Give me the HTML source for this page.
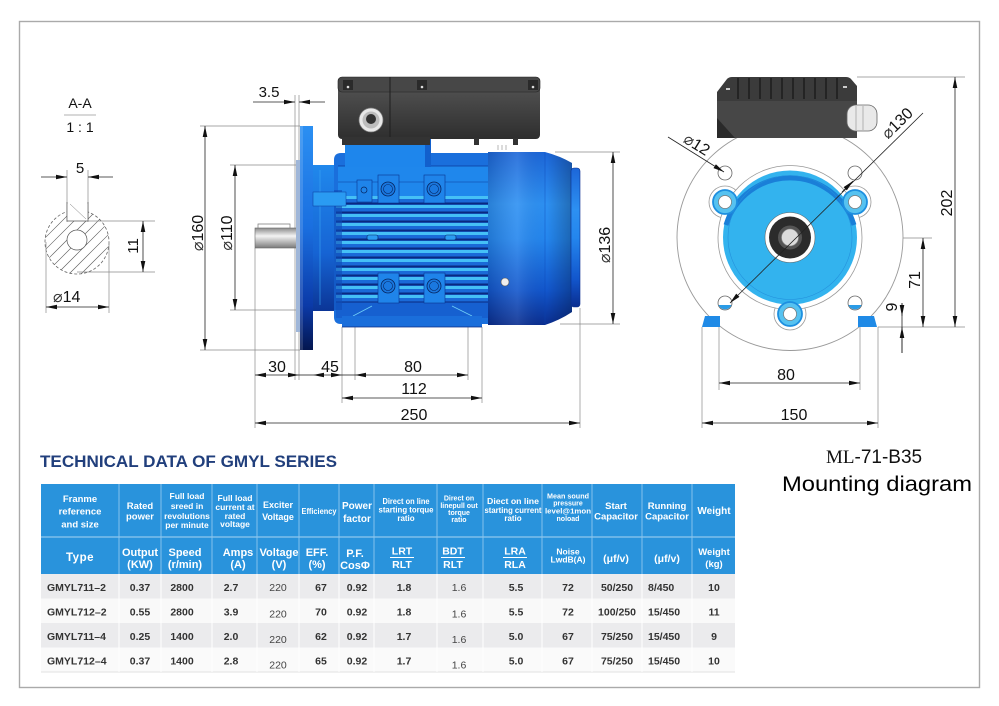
<!DOCTYPE html>
<html><head><meta charset="utf-8"><style>
html,body{margin:0;padding:0;background:#fff;}
svg{display:block;}
text{font-family:"Liberation Sans",Arial,sans-serif;}
.d{font-size:16px;fill:#111;}
.dl{stroke:#222;stroke-width:0.8;fill:none;}
.el{stroke:#8a8a8a;stroke-width:0.7;fill:none;}
.h{fill:#fff;font-weight:bold;text-anchor:middle;}
.v{fill:#333;font-weight:bold;font-size:10.5px;text-anchor:middle;}
.vl{fill:#444;font-size:10.5px;text-anchor:middle;}
</style></head><body>
<svg width="999" height="706" viewBox="0 0 999 706" xmlns="http://www.w3.org/2000/svg">
<defs>
 <marker id="ar" viewBox="0 0 11 4.6" refX="11" refY="2.3" markerWidth="11" markerHeight="4.6" markerUnits="userSpaceOnUse" orient="auto-start-reverse"><path d="M0,0 L11,2.3 L0,4.6 z" fill="#111"/></marker>
 <linearGradient id="flg" x1="0" y1="0" x2="0" y2="1">
  <stop offset="0" stop-color="#2b8ff2"/><stop offset="0.45" stop-color="#1a6fe0"/>
  <stop offset="0.8" stop-color="#0b3aa8"/><stop offset="1" stop-color="#04164f"/>
 </linearGradient>
 <linearGradient id="spg" x1="0" y1="0" x2="0" y2="1">
  <stop offset="0" stop-color="#2088ec"/><stop offset="0.6" stop-color="#1664d4"/><stop offset="1" stop-color="#0b3596"/>
 </linearGradient>
 <linearGradient id="fan" x1="0" y1="0" x2="0" y2="1">
  <stop offset="0" stop-color="#1c66d8"/><stop offset="0.3" stop-color="#2d90f2"/>
  <stop offset="0.5" stop-color="#2486ee"/><stop offset="0.8" stop-color="#1256cc"/>
  <stop offset="1" stop-color="#0a2e90"/>
 </linearGradient>
 <linearGradient id="fanh" x1="0" y1="0" x2="1" y2="0">
  <stop offset="0" stop-color="#000" stop-opacity="0.12"/><stop offset="0.35" stop-color="#fff" stop-opacity="0.1"/>
  <stop offset="0.7" stop-color="#000" stop-opacity="0"/><stop offset="1" stop-color="#000" stop-opacity="0.25"/>
 </linearGradient>
 <linearGradient id="shaft" x1="0" y1="0" x2="0" y2="1">
  <stop offset="0" stop-color="#8a8a8a"/><stop offset="0.4" stop-color="#f4f4f4"/><stop offset="1" stop-color="#7a7a7a"/>
 </linearGradient>
 <linearGradient id="tb" x1="0" y1="0" x2="0" y2="1">
  <stop offset="0" stop-color="#585858"/><stop offset="1" stop-color="#2e2e2e"/>
 </linearGradient>
 <pattern id="fins" x="0" y="196" width="10" height="9" patternUnits="userSpaceOnUse">
  <rect width="10" height="9" fill="#1a6ad8"/>
  <rect y="0" width="10" height="3" fill="#45c0f6"/>
  <rect y="6.5" width="10" height="2" fill="#0a2a80"/>
 </pattern>
 <clipPath id="cc"><circle cx="77" cy="242" r="32"/></clipPath>
</defs>

<!-- frame -->
<rect x="19.5" y="21.5" width="960" height="666" fill="none" stroke="#aaa" stroke-width="1.4"/>

<!-- ===== Section A-A ===== -->
<text x="80" y="108" font-size="14" text-anchor="middle" fill="#111">A-A</text>
<line x1="64" y1="115" x2="96" y2="115" stroke="#999" stroke-width="0.8"/>
<text x="80" y="132" font-size="14" text-anchor="middle" fill="#111">1 : 1</text>
<text x="80" y="173" font-size="15" text-anchor="middle" fill="#111">5</text>
<line class="el" x1="67" y1="170" x2="67" y2="222"/>
<line class="el" x1="88" y1="170" x2="88" y2="222"/>
<line class="dl" x1="41" y1="177" x2="67" y2="177" marker-end="url(#ar)"/>
<line class="dl" x1="113" y1="177" x2="88" y2="177" marker-end="url(#ar)"/>
<g clip-path="url(#cc)" stroke="#555" stroke-width="0.6">
 <line x1="-11" y1="282" x2="69" y2="202"/><line x1="1" y1="282" x2="81" y2="202"/>
 <line x1="13" y1="282" x2="93" y2="202"/><line x1="25" y1="282" x2="105" y2="202"/>
 <line x1="37" y1="282" x2="117" y2="202"/><line x1="49" y1="282" x2="129" y2="202"/>
 <line x1="61" y1="282" x2="141" y2="202"/><line x1="73" y1="282" x2="153" y2="202"/>
 <line x1="85" y1="282" x2="165" y2="202"/><line x1="97" y1="282" x2="177" y2="202"/>
</g>
<circle cx="77" cy="242" r="32" fill="none" stroke="#666" stroke-width="0.8" stroke-dasharray="3 2"/>
<rect x="67" y="204" width="21" height="17" fill="#fff"/>
<path d="M67,202 V221 H88 V202" fill="none" stroke="#555" stroke-width="0.7"/>
<line x1="70" y1="204" x2="86" y2="219" stroke="#777" stroke-width="0.5"/>
<circle cx="77" cy="240" r="10" fill="#fff" stroke="#555" stroke-width="0.7"/>
<line class="el" x1="88" y1="221" x2="155" y2="221"/>
<line class="el" x1="77" y1="272" x2="155" y2="272"/>
<line class="dl" x1="143" y1="221" x2="143" y2="272" marker-start="url(#ar)" marker-end="url(#ar)"/>
<text transform="translate(138,246) rotate(-90)" font-size="15" text-anchor="middle" fill="#111">11</text>
<line class="el" x1="46" y1="242" x2="46" y2="313"/>
<line class="el" x1="109" y1="242" x2="109" y2="313"/>
<line class="dl" x1="46" y1="307" x2="109" y2="307" marker-start="url(#ar)" marker-end="url(#ar)"/>
<text x="53" y="302" font-size="16" fill="#111"><tspan font-family="DejaVu Sans" font-weight="200" fill="#333">⌀</tspan>14</text>

<!-- ===== Side view dims ===== -->
<line class="el" x1="200" y1="126" x2="300" y2="126"/>
<line class="el" x1="200" y1="350" x2="300" y2="350"/>
<line class="el" x1="230" y1="165" x2="313" y2="165"/>
<line class="el" x1="230" y1="310" x2="313" y2="310"/>
<line class="el" x1="295" y1="95" x2="295" y2="380"/>
<line class="el" x1="299" y1="95" x2="299" y2="380"/>
<line class="el" x1="255" y1="248" x2="255" y2="428"/>
<line class="el" x1="580" y1="308" x2="580" y2="428"/>
<line class="el" x1="342" y1="327" x2="342" y2="403"/>
<line class="el" x1="482" y1="327" x2="482" y2="403"/>
<line class="el" x1="355" y1="318" x2="355" y2="380"/>
<line class="el" x1="468" y1="318" x2="468" y2="380"/>
<line class="el" x1="555" y1="152" x2="620" y2="152"/>
<line class="el" x1="560" y1="324" x2="620" y2="324"/>
<line class="dl" x1="205" y1="126" x2="205" y2="350" marker-start="url(#ar)" marker-end="url(#ar)"/>
<line class="dl" x1="235" y1="165" x2="235" y2="310" marker-start="url(#ar)" marker-end="url(#ar)"/>
<line class="dl" x1="613" y1="152" x2="613" y2="324" marker-start="url(#ar)" marker-end="url(#ar)"/>
<text class="d" transform="translate(203,233) rotate(-90)" text-anchor="middle"><tspan font-family="DejaVu Sans" font-weight="200" fill="#333">⌀</tspan>160</text>
<text class="d" transform="translate(232,233) rotate(-90)" text-anchor="middle"><tspan font-family="DejaVu Sans" font-weight="200" fill="#333">⌀</tspan>110</text>
<text class="d" transform="translate(610,245) rotate(-90)" text-anchor="middle"><tspan font-family="DejaVu Sans" font-weight="200" fill="#333">⌀</tspan>136</text>
<text x="269" y="97" font-size="15" text-anchor="middle" fill="#111">3.5</text>
<line class="dl" x1="253" y1="102" x2="295" y2="102" marker-end="url(#ar)"/>
<line class="dl" x1="325" y1="102" x2="299" y2="102" marker-end="url(#ar)"/>
<line class="dl" x1="255" y1="375" x2="299" y2="375" marker-start="url(#ar)" marker-end="url(#ar)"/>
<line class="dl" x1="299" y1="375" x2="313" y2="375"/>
<line class="dl" x1="313" y1="375" x2="342" y2="375" marker-start="url(#ar)" marker-end="url(#ar)"/>
<line class="dl" x1="342" y1="375" x2="355" y2="375"/>
<line class="dl" x1="355" y1="375" x2="468" y2="375" marker-start="url(#ar)" marker-end="url(#ar)"/>
<line class="dl" x1="342" y1="398" x2="482" y2="398" marker-start="url(#ar)" marker-end="url(#ar)"/>
<line class="dl" x1="255" y1="423" x2="580" y2="423" marker-start="url(#ar)" marker-end="url(#ar)"/>
<text class="d" x="277" y="372" text-anchor="middle">30</text>
<text class="d" x="330" y="372" text-anchor="middle">45</text>
<text class="d" x="413" y="372" text-anchor="middle">80</text>
<text class="d" x="414" y="394" text-anchor="middle">112</text>
<text class="d" x="414" y="420" text-anchor="middle">250</text>

<!-- ===== Side view motor ===== -->
<rect x="255" y="228" width="42" height="20" fill="url(#shaft)" stroke="#666" stroke-width="0.6"/>
<path d="M258,228 V224 H290 V228" fill="none" stroke="#777" stroke-width="0.7"/>
<rect x="296" y="160" width="4.5" height="172" fill="#9fb6d8"/>
<rect x="300" y="126" width="13" height="224" fill="url(#flg)"/>
<rect x="300" y="126" width="3" height="224" fill="#fff" opacity="0.15"/>
<rect x="313" y="165" width="22" height="146" fill="url(#spg)"/>
<line x1="320" y1="170" x2="320" y2="305" stroke="#3aa6f4" stroke-width="1" opacity="0.6"/>
<!-- body -->
<path d="M341,153 H488 V324 H341 Q334,324 334,317 V160 Q334,153 341,153Z" fill="#1a6fdc"/>
<rect x="336" y="196" width="152" height="108" fill="url(#fins)"/>
<rect x="338" y="166" width="150" height="30" fill="#1f87ec"/>
<line x1="338" y1="166" x2="488" y2="166" stroke="#0b3a9c" stroke-width="0.8"/>
<line x1="338" y1="182" x2="488" y2="182" stroke="#0b3a9c" stroke-width="0.6"/>
<rect x="336" y="302" width="152" height="16" fill="#1660d0"/>
<line x1="336" y1="302" x2="488" y2="302" stroke="#0a2a80" stroke-width="1"/>
<rect x="334" y="190" width="8" height="120" fill="#0f4cb8" opacity="0.6"/>
<!-- lug -->
<rect x="313" y="192" width="33" height="14" fill="#2a9bf2" stroke="#0b3a9c" stroke-width="0.5"/>
<!-- upper blocks -->
<rect x="357" y="180" width="15" height="22" fill="#1f84ea" stroke="#0a3590" stroke-width="0.6"/>
<circle cx="364" cy="190" r="3" fill="none" stroke="#06245e" stroke-width="0.7"/>
<rect x="378" y="175" width="21" height="28" fill="#1f84ea" stroke="#0a3590" stroke-width="0.6"/>
<rect x="424" y="175" width="21" height="28" fill="#1f84ea" stroke="#0a3590" stroke-width="0.6"/>
<circle cx="388" cy="189" r="7" fill="#1a78e0" stroke="#06245e" stroke-width="0.8"/>
<circle cx="388" cy="189" r="4.5" fill="none" stroke="#06245e" stroke-width="0.6"/>
<circle cx="434" cy="189" r="7" fill="#1a78e0" stroke="#06245e" stroke-width="0.8"/>
<circle cx="434" cy="189" r="4.5" fill="none" stroke="#06245e" stroke-width="0.6"/>
<!-- lower blocks -->
<rect x="378" y="273" width="21" height="30" fill="#1f84ea" stroke="#0a3590" stroke-width="0.6"/>
<rect x="424" y="273" width="21" height="30" fill="#1f84ea" stroke="#0a3590" stroke-width="0.6"/>
<circle cx="388" cy="286" r="7" fill="#1a78e0" stroke="#06245e" stroke-width="0.8"/>
<circle cx="388" cy="286" r="4.5" fill="none" stroke="#06245e" stroke-width="0.6"/>
<circle cx="434" cy="286" r="7" fill="#1a78e0" stroke="#06245e" stroke-width="0.8"/>
<circle cx="434" cy="286" r="4.5" fill="none" stroke="#06245e" stroke-width="0.6"/>
<rect x="367" y="235" width="11" height="5" rx="2" fill="#2a9bf2" stroke="#06245e" stroke-width="0.6"/>
<rect x="445" y="235" width="11" height="5" rx="2" fill="#2a9bf2" stroke="#06245e" stroke-width="0.6"/>
<path d="M353,316 L372,306 M452,306 L472,316" stroke="#6fcff8" stroke-width="0.8"/>
<!-- feet -->
<rect x="342" y="316" width="140" height="11" fill="#1a6edb"/>
<line x1="342" y1="327" x2="482" y2="327" stroke="#0a2a80" stroke-width="0.8"/>
<!-- pedestal -->
<rect x="345" y="137" width="86" height="30" fill="#1e86ec"/>
<rect x="425" y="137" width="6" height="30" fill="#1260cc"/>
<!-- terminal box -->
<rect x="338" y="77" width="202" height="62" rx="4" fill="url(#tb)"/>
<rect x="338" y="77" width="202" height="15" rx="4" fill="#474747" stroke="#222" stroke-width="0.6"/>
<line x1="390" y1="77" x2="390" y2="139" stroke="#1e1e1e" stroke-width="1"/>
<rect x="343" y="80" width="10" height="10" fill="#2a2a2a"/><circle cx="348" cy="87" r="1.3" fill="#ddd"/>
<rect x="417" y="80" width="10" height="10" fill="#2a2a2a"/><circle cx="422" cy="87" r="1.3" fill="#ddd"/>
<rect x="528" y="80" width="10" height="10" fill="#2a2a2a"/><circle cx="533" cy="87" r="1.3" fill="#ddd"/>
<rect x="342" y="137" width="88" height="8" fill="#333"/>
<rect x="474" y="138" width="5" height="7" fill="#333"/>
<rect x="513" y="138" width="5" height="7" fill="#333"/>
<circle cx="371" cy="120" r="12" fill="#e8e8e8" stroke="#777" stroke-width="0.7"/>
<circle cx="371" cy="120" r="8.5" fill="#bdbdbd"/>
<circle cx="371" cy="119" r="5" fill="#333"/>
<!-- fan cover -->
<path d="M488,152 H545 Q560,156 572,163 V312 Q560,320 545,325 H488 Z" fill="url(#fan)"/>
<path d="M488,152 H545 Q560,156 572,163 V312 Q560,320 545,325 H488 Z" fill="url(#fanh)"/>
<line x1="545" y1="153" x2="545" y2="324" stroke="#0d44b0" stroke-width="0.6" opacity="0.6"/>
<rect x="571" y="168" width="9" height="139" rx="3" fill="url(#fan)" stroke="#0a3090" stroke-width="0.6"/>
<circle cx="505" cy="282" r="4" fill="#eee" stroke="#555" stroke-width="0.6"/>
<path d="M498,145 V150 M502,145 V150 M506,145 V150" stroke="#888" stroke-width="0.6"/>

<!-- ===== Front view ===== -->
<line class="el" x1="857" y1="77" x2="965" y2="77"/>
<line class="el" x1="878" y1="327" x2="965" y2="327"/>
<line class="el" x1="790" y1="238" x2="932" y2="238"/>
<line class="el" x1="702" y1="327" x2="702" y2="428"/>
<line class="el" x1="878" y1="327" x2="878" y2="428"/>
<line class="el" x1="719" y1="305" x2="719" y2="390"/>
<line class="el" x1="860" y1="305" x2="860" y2="390"/>
<line class="dl" x1="955" y1="77" x2="955" y2="327" marker-start="url(#ar)" marker-end="url(#ar)"/>
<line class="dl" x1="923" y1="238" x2="923" y2="327" marker-start="url(#ar)" marker-end="url(#ar)"/>
<line class="dl" x1="902" y1="303" x2="902" y2="353"/>
<line class="dl" x1="902" y1="303" x2="902" y2="316" marker-end="url(#ar)"/>
<line class="dl" x1="902" y1="353" x2="902" y2="327" marker-end="url(#ar)"/>
<line class="dl" x1="719" y1="383" x2="860" y2="383" marker-start="url(#ar)" marker-end="url(#ar)"/>
<line class="dl" x1="702" y1="423" x2="878" y2="423" marker-start="url(#ar)" marker-end="url(#ar)"/>
<text class="d" transform="translate(952,203) rotate(-90)" text-anchor="middle">202</text>
<text class="d" transform="translate(920,280) rotate(-90)" text-anchor="middle">71</text>
<text class="d" transform="translate(897,307) rotate(-90)" text-anchor="middle">9</text>
<text class="d" x="786" y="380" text-anchor="middle">80</text>
<text class="d" x="794" y="420" text-anchor="middle">150</text>

<circle cx="790" cy="237.5" r="113" fill="#fff" stroke="#999" stroke-width="0.9"/>
<!-- front terminal box -->
<path d="M717,92 L727,79 Q729,77 732,77 H846 Q849,77 851,79 L857,86 V138 H717 Z" fill="#3b3b3b"/>
<rect x="717" y="101" width="140" height="37" fill="#474747"/>
<path d="M717,118 L735,138 H717 Z" fill="#2a2a2a"/>
<g stroke="#1a1a1a" stroke-width="1.4">
 <line x1="738" y1="78" x2="738" y2="99"/><line x1="749" y1="78" x2="749" y2="99"/>
 <line x1="760" y1="78" x2="760" y2="99"/><line x1="771" y1="78" x2="771" y2="99"/>
 <line x1="782" y1="78" x2="782" y2="99"/><line x1="793" y1="78" x2="793" y2="99"/>
 <line x1="804" y1="78" x2="804" y2="99"/><line x1="815" y1="78" x2="815" y2="99"/>
 <line x1="826" y1="78" x2="826" y2="99"/><line x1="837" y1="78" x2="837" y2="99"/>
</g>
<rect x="726" y="88" width="4" height="2" fill="#ccc"/><rect x="843" y="86" width="4" height="2" fill="#ccc"/>
<rect x="847" y="105" width="30" height="26" rx="9" fill="#e9e9e9" stroke="#666" stroke-width="0.8"/>
<path d="M856,106 V130 M863,106 V130" stroke="#999" stroke-width="0.7"/>
<!-- flange holes -->
<g fill="#fff" stroke="#666" stroke-width="0.8">
 <circle cx="725" cy="173" r="7"/><circle cx="855" cy="173" r="7"/>
 <circle cx="725" cy="303" r="7"/><circle cx="855" cy="303" r="7"/>
</g>
<path d="M718.5,305 A7,7 0 0 0 731.5,305 Z" fill="#2a9be6"/>
<path d="M848.5,305 A7,7 0 0 0 861.5,305 Z" fill="#2a9be6"/>
<!-- boss outlines -->
<g fill="#fff" stroke="#999" stroke-width="0.8">
 <circle cx="725" cy="202" r="16"/><circle cx="855" cy="202" r="16"/><circle cx="790" cy="314" r="16"/>
 <circle cx="790" cy="237.5" r="72"/>
</g>
<circle cx="790" cy="237.5" r="67" fill="#33b3ee"/>
<path d="M726,225 A67,67 0 0 1 854,225" fill="none" stroke="#1a7fd8" stroke-width="5"/>
<circle cx="790" cy="237.5" r="62" fill="none" stroke="#2490dc" stroke-width="0.6"/>
<g>
 <circle cx="725" cy="202" r="12" fill="#56c2f0" stroke="#1d8fe0" stroke-width="1.8"/>
 <circle cx="725" cy="202" r="6.5" fill="#fff" stroke="#777" stroke-width="0.7"/>
 <circle cx="855" cy="202" r="12" fill="#56c2f0" stroke="#1d8fe0" stroke-width="1.8"/>
 <circle cx="855" cy="202" r="6.5" fill="#fff" stroke="#777" stroke-width="0.7"/>
 <circle cx="790" cy="314" r="12" fill="#56c2f0" stroke="#1d8fe0" stroke-width="1.8"/>
 <circle cx="790" cy="314" r="6.5" fill="#fff" stroke="#777" stroke-width="0.7"/>
</g>
<circle cx="790" cy="237.5" r="25" fill="#fff" stroke="#666" stroke-width="0.6"/>
<circle cx="790" cy="237.5" r="21" fill="#2b2b2b"/>
<circle cx="790" cy="237.5" r="12" fill="#555"/>
<circle cx="790" cy="237.5" r="8.5" fill="#dcdcdc" stroke="#888" stroke-width="0.6"/>
<!-- feet -->
<path d="M705,316 L702,327 H720 V316 Z" fill="#1f8ae6"/>
<path d="M858,316 V327 H877 L874,316 Z" fill="#1f8ae6"/>
<!-- diameters -->
<line x1="923" y1="113" x2="730" y2="303" stroke="#222" stroke-width="0.8" marker-end="url(#ar)"/>
<line x1="842" y1="192" x2="853" y2="181" stroke="#222" stroke-width="0.8" marker-end="url(#ar)"/>
<line x1="668" y1="137" x2="724" y2="172" stroke="#222" stroke-width="0.8" marker-end="url(#ar)"/>
<text class="d" transform="translate(901,127) rotate(-44.5)" text-anchor="middle"><tspan font-family="DejaVu Sans" font-weight="200" fill="#333">⌀</tspan>130</text>
<text class="d" transform="translate(694,149) rotate(32)" text-anchor="middle"><tspan font-family="DejaVu Sans" font-weight="200" fill="#333">⌀</tspan>12</text>

<!-- ===== Titles ===== -->
<text x="40" y="467" font-size="16.5" font-weight="bold" fill="#213f7c" textLength="297" lengthAdjust="spacingAndGlyphs">TECHNICAL DATA OF GMYL SERIES</text>
<text x="826" y="463" font-size="19" fill="#111"><tspan font-family="Liberation Serif">ML</tspan>-71-B35</text>
<text x="782" y="491" font-size="21" fill="#000" textLength="190" lengthAdjust="spacingAndGlyphs">Mounting diagram</text>

<!-- ===== Table ===== -->
<rect x="41" y="484" width="694" height="90" fill="#2993dc"/>
<rect x="41" y="574" width="694" height="24.5" fill="#ebebed"/>
<rect x="41" y="598.5" width="694" height="24.5" fill="#f9f9f9"/>
<rect x="41" y="623" width="694" height="24.5" fill="#ebebed"/>
<rect x="41" y="647.5" width="694" height="24.5" fill="#fafafa"/>
<line x1="41" y1="672" x2="735" y2="672" stroke="#e2e2e2" stroke-width="1"/>
<line x1="41" y1="537" x2="735" y2="537" stroke="#a9d4f2" stroke-width="1"/>
<g stroke="#8ec6ee" stroke-width="0.9">
 <line x1="119" y1="484" x2="119" y2="574"/><line x1="161" y1="484" x2="161" y2="574"/>
 <line x1="212" y1="484" x2="212" y2="574"/><line x1="257" y1="484" x2="257" y2="574"/>
 <line x1="299" y1="484" x2="299" y2="574"/><line x1="339" y1="484" x2="339" y2="574"/>
 <line x1="374" y1="484" x2="374" y2="574"/><line x1="437" y1="484" x2="437" y2="574"/>
 <line x1="483" y1="484" x2="483" y2="574"/><line x1="542" y1="484" x2="542" y2="574"/>
 <line x1="592" y1="484" x2="592" y2="574"/><line x1="642" y1="484" x2="642" y2="574"/>
 <line x1="692" y1="484" x2="692" y2="574"/>
</g>
<g stroke="#fff" stroke-width="1">
 <line x1="119" y1="574" x2="119" y2="672"/><line x1="161" y1="574" x2="161" y2="672"/>
 <line x1="212" y1="574" x2="212" y2="672"/><line x1="257" y1="574" x2="257" y2="672"/>
 <line x1="299" y1="574" x2="299" y2="672"/><line x1="339" y1="574" x2="339" y2="672"/>
 <line x1="374" y1="574" x2="374" y2="672"/><line x1="437" y1="574" x2="437" y2="672"/>
 <line x1="483" y1="574" x2="483" y2="672"/><line x1="542" y1="574" x2="542" y2="672"/>
 <line x1="592" y1="574" x2="592" y2="672"/><line x1="642" y1="574" x2="642" y2="672"/>
 <line x1="692" y1="574" x2="692" y2="672"/>
</g>
<!-- header row 1 -->
<g class="h" font-size="9.5">
 <text x="80" y="502">Franme</text><text x="80" y="514.5">reference</text><text x="80" y="527.5">and size</text>
 <text x="140" y="509">Rated</text><text x="140" y="519.5">power</text>
</g>
<g class="h" font-size="8.5">
 <text x="187" y="499">Full load</text><text x="187" y="509">sreed in</text><text x="187" y="519">revolutions</text><text x="187" y="528">per minute</text>
 <text x="235" y="501">Full load</text><text x="235" y="510">current at</text><text x="235" y="519">rated</text><text x="235" y="527">voltage</text>
</g>
<g class="h" font-size="9">
 <text x="278" y="508">Exciter</text><text x="278" y="520">Voltage</text>
</g>
<text class="h" x="319" y="514" font-size="8" textLength="35" lengthAdjust="spacingAndGlyphs">Efficiency</text>
<g class="h" font-size="10">
 <text x="357" y="509">Power</text><text x="357" y="522">factor</text>
</g>
<g class="h" font-size="8">
 <text x="406" y="504" textLength="47" lengthAdjust="spacingAndGlyphs">Direct on line</text>
 <text x="406" y="512.5" textLength="55" lengthAdjust="spacingAndGlyphs">starting torque</text>
 <text x="406" y="521">ratio</text>
 <text x="513" y="504" textLength="52" lengthAdjust="spacingAndGlyphs">Diect on line</text>
 <text x="513" y="513" textLength="57" lengthAdjust="spacingAndGlyphs">starting current</text>
 <text x="513" y="521">ratio</text>
</g>
<g class="h" font-size="7">
 <text x="459" y="500.5">Direct on</text><text x="459" y="508">linepull out</text><text x="459" y="515">torque</text><text x="459" y="522">ratio</text>
 <text x="568" y="498.5" textLength="42" lengthAdjust="spacingAndGlyphs">Mean sound</text>
 <text x="568" y="505.5">pressure</text>
 <text x="568" y="513.5" textLength="46" lengthAdjust="spacingAndGlyphs">level@1mon</text>
 <text x="568" y="521">noload</text>
</g>
<g class="h" font-size="9.5">
 <text x="616" y="509">Start</text><text x="616" y="519.5">Capacitor</text>
 <text x="667" y="509">Running</text><text x="667" y="519.5">Capacitor</text>
</g>
<text class="h" x="714" y="514" font-size="10">Weight</text>
<!-- header row 2 -->
<text class="h" x="80" y="561" font-size="11.5" letter-spacing="0.5">Type</text>
<g class="h" font-size="11">
 <text x="140" y="556">Output</text><text x="140" y="568">(KW)</text>
 <text x="185" y="556">Speed</text><text x="185" y="568">(r/min)</text>
 <text x="238" y="556">Amps</text><text x="238" y="568">(A)</text>
 <text x="279" y="556">Voltage</text><text x="279" y="568">(V)</text>
 <text x="317" y="556">EFF.</text><text x="317" y="568">(%)</text>
 <text x="355" y="557">P.F.</text><text x="355" y="569">CosΦ</text>
</g>
<g class="h" font-size="10.5">
 <text x="402" y="554.5">LRT</text><text x="402" y="568">RLT</text>
 <text x="453" y="554.5">BDT</text><text x="453" y="568">RLT</text>
 <text x="515" y="554.5">LRA</text><text x="515" y="568">RLA</text>
 <text x="616" y="562">(μf/v)</text><text x="667" y="562">(μf/v)</text>
</g>
<g stroke="#fff" stroke-width="1">
 <line x1="390" y1="557.5" x2="414" y2="557.5"/><line x1="441" y1="557.5" x2="465" y2="557.5"/><line x1="503" y1="557.5" x2="527" y2="557.5"/>
</g>
<g class="h" font-size="8.5">
 <text x="568" y="554.5">Noise</text><text x="568" y="562.5">LwdB(A)</text>
</g>
<g class="h" font-size="9.5">
 <text x="714" y="555">Weight</text><text x="714" y="567">(kg)</text>
</g>
<!-- data rows -->
<g class="v">
 <text x="47" y="591" text-anchor="start">GMYL711–2</text>
 <text x="140" y="591">0.37</text><text x="182" y="591">2800</text><text x="231" y="591">2.7</text>
 <text x="321" y="591">67</text><text x="357" y="591">0.92</text><text x="404" y="591">1.8</text>
 <text x="516" y="591">5.5</text><text x="568" y="591">72</text><text x="617" y="591">50/250</text>
 <text x="648" y="591" text-anchor="start">8/450</text><text x="714" y="591">10</text>

 <text x="47" y="615.5" text-anchor="start">GMYL712–2</text>
 <text x="140" y="615.5">0.55</text><text x="182" y="615.5">2800</text><text x="231" y="615.5">3.9</text>
 <text x="321" y="615.5">70</text><text x="357" y="615.5">0.92</text><text x="404" y="615.5">1.8</text>
 <text x="516" y="615.5">5.5</text><text x="568" y="615.5">72</text><text x="617" y="615.5">100/250</text>
 <text x="648" y="615.5" text-anchor="start">15/450</text><text x="714" y="615.5">11</text>

 <text x="47" y="640" text-anchor="start">GMYL711–4</text>
 <text x="140" y="640">0.25</text><text x="182" y="640">1400</text><text x="231" y="640">2.0</text>
 <text x="321" y="640">62</text><text x="357" y="640">0.92</text><text x="404" y="640">1.7</text>
 <text x="516" y="640">5.0</text><text x="568" y="640">67</text><text x="617" y="640">75/250</text>
 <text x="648" y="640" text-anchor="start">15/450</text><text x="714" y="640">9</text>

 <text x="47" y="664.5" text-anchor="start">GMYL712–4</text>
 <text x="140" y="664.5">0.37</text><text x="182" y="664.5">1400</text><text x="231" y="664.5">2.8</text>
 <text x="321" y="664.5">65</text><text x="357" y="664.5">0.92</text><text x="404" y="664.5">1.7</text>
 <text x="516" y="664.5">5.0</text><text x="568" y="664.5">67</text><text x="617" y="664.5">75/250</text>
 <text x="648" y="664.5" text-anchor="start">15/450</text><text x="714" y="664.5">10</text>
</g>
<g class="vl">
 <text x="278" y="591">220</text><text x="459" y="591">1.6</text>
 <text x="278" y="617.5">220</text><text x="459" y="617.5">1.6</text>
 <text x="278" y="643">220</text><text x="459" y="643">1.6</text>
 <text x="278" y="668.5">220</text><text x="459" y="668.5">1.6</text>
</g>
</svg>
</body></html>
